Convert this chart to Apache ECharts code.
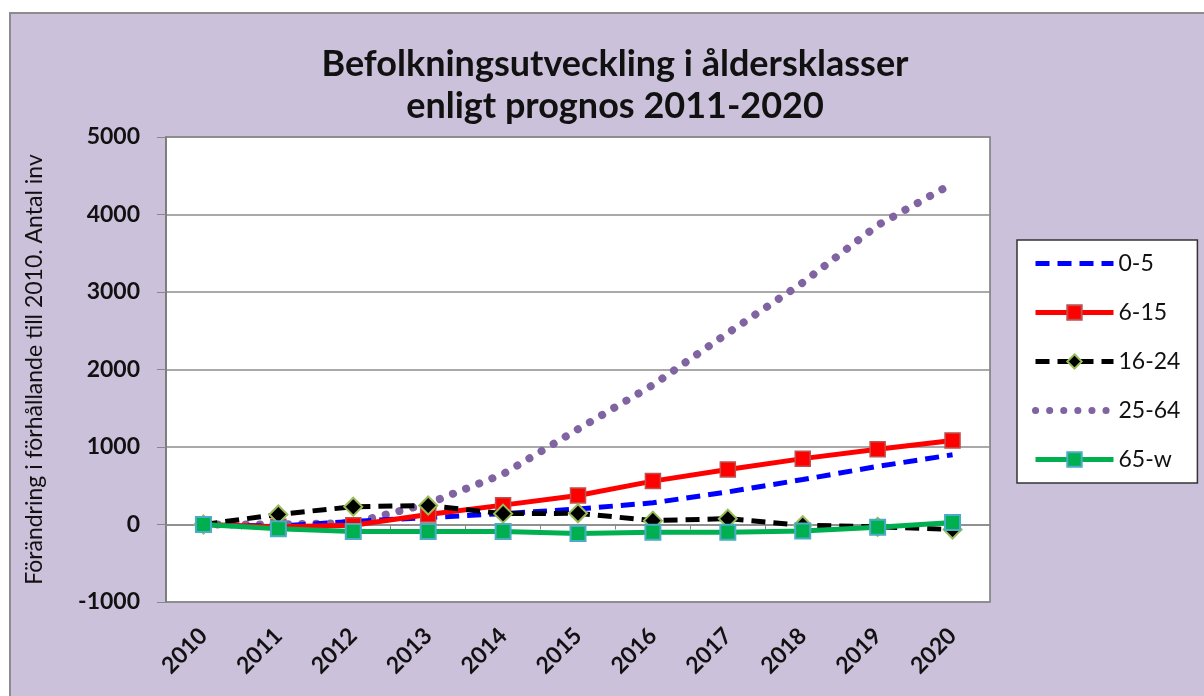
<!DOCTYPE html>
<html>
<head>
<meta charset="utf-8">
<script src="https://cdn.jsdelivr.net/npm/echarts@6/dist/echarts.min.js"></script>
<style>
  html, body { margin: 0; padding: 0; background: #fff; }
  #chart { width: 1204px; height: 696px; }
</style>
</head>
<body>
<div id="chart"></div>
<script>
  // Data
  const years = ['2010', '2011', '2012', '2013', '2014', '2015', '2016', '2017', '2018', '2019', '2020'];
  const age0to5 = [0, -20, 40, 90, 140, 200, 280, 420, 580, 750, 900];
  const age6to15 = [0, -30, -10, 130, 250, 375, 560, 710, 850, 970, 1085];
  const age16to24 = [0, 130, 230, 245, 140, 145, 50, 75, -10, -30, -65];
  const age25to64 = [0, 0, 20, 270, 650, 1230, 1800, 2470, 3120, 3860, 4400];
  const age65up = [0, -55, -90, -90, -90, -115, -100, -100, -85, -35, 25];
  const yTicks = [-1000, 0, 1000, 2000, 3000, 4000, 5000];

  const chart = echarts.init(document.getElementById('chart'));
  const font = 'Lato, "Open Sans", sans-serif';

  const option = {
    backgroundColor: '#ffffff',
    animation: false,
    graphic: [
      {
        type: 'rect',
        z: -10,
        shape: { x: 10, y: 13, width: 1200, height: 690 },
        style: { fill: '#ccc1da', stroke: '#8c8c8c', lineWidth: 2 }
      }
    ],
    title: {
      text: 'Befolkningsutveckling i åldersklasser\nenligt prognos 2011-2020',
      left: 610,
      top: 38,
      textAlign: 'center',
      textStyle: {
        fontFamily: font,
        fontWeight: 'bold',
        fontSize: 36,
        lineHeight: 42,
        color: '#111'
      }
    },
    legend: {
      orient: 'vertical',
      left: 1017,
      top: 240,
      padding: [12, 17, 12, 15],
      itemGap: 26,
      itemWidth: 78,
      itemHeight: 18,
      backgroundColor: '#ffffff',
      borderColor: '#333',
      borderWidth: 1.5,
      textStyle: { fontFamily: font, fontSize: 23, color: '#111' },
      data: [
        { name: '0-5', itemStyle: { opacity: 0 }, lineStyle: { width: 5 } },
        { name: '6-15', lineStyle: { width: 5 } },
        { name: '16-24', lineStyle: { width: 5 } },
        { name: '25-64', itemStyle: { opacity: 0 }, lineStyle: { width: 7 } },
        { name: '65-w', lineStyle: { width: 5 } }
      ]
    },
    grid: {
      left: 166,
      top: 137,
      width: 824,
      height: 465,
      show: true,
      backgroundColor: '#ffffff',
      borderColor: '#777',
      borderWidth: 1.5
    },
    xAxis: [
      {
        type: 'category',
        data: years,
        boundaryGap: true,
        position: 'bottom',
        axisLine: { onZero: false, show: false },
        axisTick: { show: false },
        axisLabel: {
          rotate: 45,
          margin: 30,
          fontFamily: font,
          fontWeight: 'bold',
          fontSize: 23,
          color: '#111'
        }
      },
      {
        type: 'category',
        data: years,
        boundaryGap: true,
        position: 'bottom',
        axisLine: { onZero: true, show: true, lineStyle: { color: '#888', width: 1.5 } },
        axisTick: { show: true, length: 5, lineStyle: { color: '#888' } },
        axisLabel: { show: false }
      }
    ],
    yAxis: {
      type: 'value',
      min: yTicks[0],
      max: yTicks[yTicks.length - 1],
      interval: 1000,
      axisLine: { show: true, lineStyle: { color: '#777', width: 1.5 } },
      axisTick: { show: true, length: 9, lineStyle: { color: '#888' } },
      splitLine: { show: true, lineStyle: { color: '#8c8c8c', width: 1.5 } },
      axisLabel: {
        margin: 26,
        fontFamily: font,
        fontWeight: 'bold',
        fontSize: 23,
        color: '#111',
        formatter: function(v) { return String(v); }
      },
      name: 'Förändring i förhållande till 2010. Antal inv',
      nameLocation: 'middle',
      nameGap: 120,
      nameRotate: 90,
      nameTextStyle: { fontFamily: font, fontSize: 23, color: '#111' }
    },
    series: [
      {
        name: '0-5',
        type: 'line',
        data: age0to5,
        symbol: 'none',
        lineStyle: { color: '#0000ff', width: 5, type: [14, 8] },
        itemStyle: { color: '#0000ff' },
        z: 3
      },
      {
        name: '6-15',
        type: 'line',
        data: age6to15,
        symbol: 'rect',
        symbolSize: 15,
        lineStyle: { color: '#ff0000', width: 5 },
        itemStyle: { color: '#ff0000', borderColor: '#c0504d', borderWidth: 1.5 },
        z: 4
      },
      {
        name: '16-24',
        type: 'line',
        data: age16to24,
        symbol: 'diamond',
        symbolSize: 18,
        lineStyle: { color: '#000000', width: 5, type: [14, 8] },
        itemStyle: { color: '#000000', borderColor: '#9bbb59', borderWidth: 2 },
        z: 5
      },
      {
        name: '25-64',
        type: 'line',
        data: age25to64,
        symbol: 'none',
        lineStyle: { color: '#8064a2', width: 8, type: [0.1, 14], cap: 'round' },
        itemStyle: { color: '#8064a2' },
        z: 2
      },
      {
        name: '65-w',
        type: 'line',
        data: age65up,
        symbol: 'rect',
        symbolSize: 15,
        lineStyle: { color: '#00b050', width: 5 },
        itemStyle: { color: '#00b050', borderColor: '#4bacc6', borderWidth: 2 },
        z: 6
      }
    ]
  };
  chart.setOption(option);

  window.addEventListener('resize', function() {
    chart.resize();
  });
</script>
</body>
</html>
